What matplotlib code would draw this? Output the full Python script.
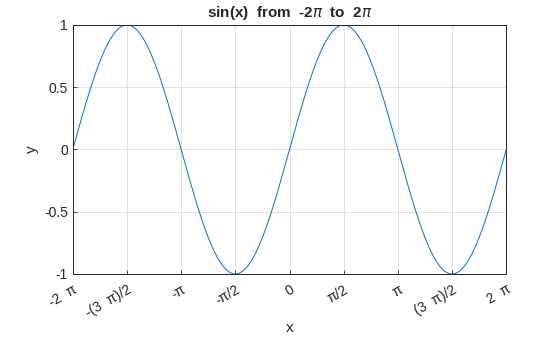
import numpy as np
import matplotlib
matplotlib.use("Agg")
import matplotlib.pyplot as plt

plt.rcParams["font.family"] = ["Liberation Sans", "DejaVu Sans"]

x_ticks = [-2 * np.pi, -1.5 * np.pi, -np.pi, -0.5 * np.pi, 0,
           0.5 * np.pi, np.pi, 1.5 * np.pi, 2 * np.pi]
x_labels = ["-2  \u03c0", "-(3  \u03c0)/2", "-\u03c0", "-\u03c0/2", "0",
            "\u03c0/2", "\u03c0", "(3  \u03c0)/2", "2  \u03c0"]
y_ticks = [-1, -0.5, 0, 0.5, 1]
y_labels = ["-1", "-0.5", "0", "0.5", "1"]

x = np.linspace(-2 * np.pi, 2 * np.pi, 400)
y = np.sin(x)

fig = plt.figure(figsize=(5.6, 3.37), dpi=100)
ax = fig.add_axes([0.130, 0.187, 0.774, 0.739])
ax.plot(x, y, color="#0072BD", linewidth=0.7)
ax.set_xlim(-2 * np.pi, 2 * np.pi)
ax.set_ylim(-1, 1)
ax.set_xticks(x_ticks)
ax.set_xticklabels(x_labels, rotation=30, ha="right", va="top",
                   rotation_mode="anchor")
ax.set_yticks(y_ticks)
ax.set_yticklabels(y_labels)
ax.tick_params(direction="in", length=3, width=0.6, labelsize=10, colors="#262626")
ax.tick_params(axis="x", pad=6)
ax.grid(True, color="#dcdcdc", linewidth=0.6)
ax.set_axisbelow(True)
for s in ax.spines.values():
    s.set_linewidth(0.7)
    s.set_color("#262626")
ax.set_xlabel("x", fontsize=11, color="#262626")
ax.xaxis.set_label_coords(0.5, -0.19)
ax.set_ylabel("y", fontsize=11, color="#262626")
ax.set_title("sin(x)  from  -2$\\pi$  to  2$\\pi$", fontsize=11, fontweight="bold",
             color="#262626", pad=6)

fig.savefig("out.png", dpi=100)
